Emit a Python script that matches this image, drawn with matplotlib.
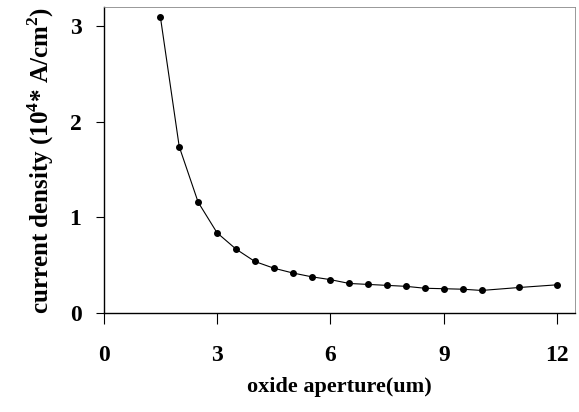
import numpy as np
import matplotlib
matplotlib.use("Agg")
import matplotlib.pyplot as plt

# oxide aperture (um) and current density (10^4 A/cm^2)
aperture = [1.5, 2.0, 2.5, 3.0, 3.5, 4.0, 4.5, 5.0, 5.5, 6.0,
            6.5, 7.0, 7.5, 8.0, 8.5, 9.0, 9.5, 10.0, 11.0, 12.0]
density = [3.10, 1.74, 1.16, 0.84, 0.67, 0.54, 0.47, 0.42, 0.38, 0.35,
           0.31, 0.30, 0.29, 0.28, 0.26, 0.255, 0.25, 0.237, 0.268, 0.296]

x_ticks = [0, 3, 6, 9, 12]
y_ticks = [0, 1, 2, 3]

plt.rcParams['font.family'] = ['Liberation Serif', 'DejaVu Serif']
plt.rcParams['mathtext.fontset'] = 'custom'
plt.rcParams['mathtext.rm'] = 'Liberation Serif:bold'
plt.rcParams['mathtext.bf'] = 'Liberation Serif:bold'

fig = plt.figure(figsize=(5.79, 4.12), dpi=100)
ax = fig.add_axes([0.179, 0.240, 0.814, 0.743])

ax.plot(aperture, density, color='black', linewidth=0.8,
        marker='o', markersize=4, markerfacecolor='black', markeredgecolor='black')

ax.set_xlim(0, 12.47)
ax.set_ylim(0, 3.2)
ax.set_xticks(x_ticks)
ax.set_yticks(y_ticks)
ax.tick_params(axis='x', direction='out', length=8, width=0.8, pad=15, labelsize=17)
ax.tick_params(axis='y', direction='out', length=6, width=0.8, pad=10, labelsize=17)
for lab in ax.get_xticklabels() + ax.get_yticklabels():
    lab.set_fontweight('bold')

for s in ['left', 'bottom']:
    ax.spines[s].set_color('black')
    ax.spines[s].set_linewidth(1.0)
for s in ['top', 'right']:
    ax.spines[s].set_color('#888888')
    ax.spines[s].set_linewidth(0.6)

ax.set_xlabel('oxide aperture(um)', fontsize=16, fontweight='bold', labelpad=8)
ax.set_ylabel(r'current density (10$^{4}$* A/cm$^{2}$)', fontsize=18, fontweight='bold', labelpad=10)

fig.savefig('out.png', dpi=100)
